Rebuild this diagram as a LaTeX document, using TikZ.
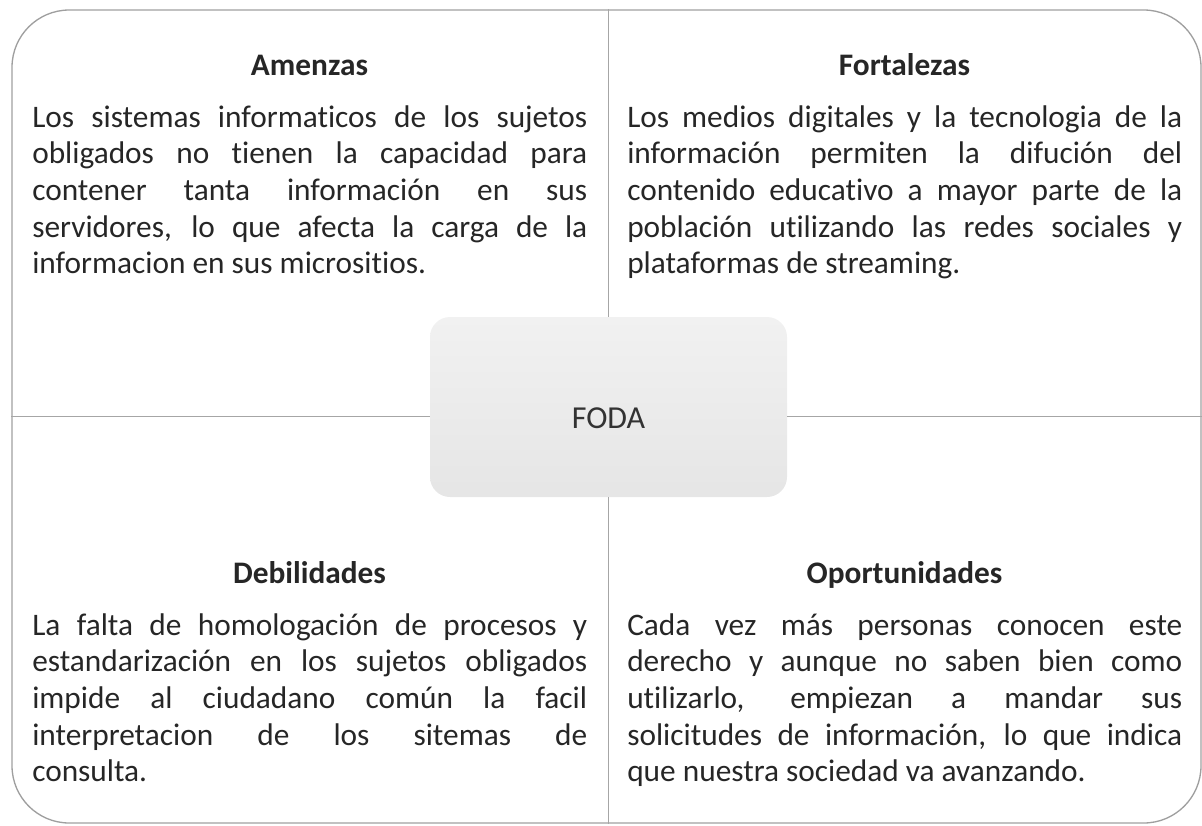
\documentclass[tikz,border=0pt]{standalone}
\usepackage{fontspec}
\setmainfont{Carlito}[Ligatures=NoCommon]
\begin{document}
\begin{tikzpicture}[x=0.75pt,y=-0.75pt,
  frame/.style={draw=gray!75,line width=1pt,rounded corners=43pt,
    minimum width=891.75pt,minimum height=609.75pt},
  core/.style={top color=gray!11,bottom color=gray!20,draw=none,rounded corners=15pt,
    minimum width=267.75pt,minimum height=135pt,text=black!80,
    font=\fontsize{24}{27.5}\selectfont,text height=32pt,text depth=0pt},
  head/.style={font=\fontsize{23.5}{27.5}\selectfont\bfseries,text=black!85,anchor=base},
  body/.style={font=\fontsize{23.5}{27.5}\selectfont,text=black!85,text width=416.25pt,
    align=justify,anchor=base west,inner sep=0pt},
  split/.style={draw=gray!70,line width=1pt}]
\useasboundingbox (0,0) rectangle (1202,825);
\path
(606.5,416.5) node[frame] (frame) {}
(608.5,407)   node[core]  (foda) {FODA};
\draw[split] (foda.north |- frame.north)--(foda.north);
\draw[split] (foda.south)--(foda.south |- frame.south);
\draw[split] (frame.west)--(frame.west -| foda.west);
\draw[split] (frame.east -| foda.east)--(frame.east);
\path
(309.5,75) node[head] (amenazas) {Amenzas}
(32,127)   node[body] (amenazastxt) {\tolerance=9999 Los sistemas informaticos de los sujetos\linebreak
  obligados no tienen la capacidad para\linebreak
  contener tanta información en sus\linebreak
  servidores, lo que afecta la carga de la\linebreak
  informacion en sus micrositios.}
(904.5,75) node[head] (fortalezas) {Fortalezas}
(627,127)  node[body] (fortalezastxt) {\tolerance=9999 Los medios digitales y la tecnologia de la\linebreak
  información permiten la difución del\linebreak
  contenido educativo a mayor parte de la\linebreak
  población utilizando las redes sociales y\linebreak
  plataformas de streaming.}
(309.5,583) node[head] (debilidades) {Debilidades}
(32,635)   node[body] (debilidadestxt) {\tolerance=9999 La falta de homologación de procesos y\linebreak
  estandarización en los sujetos obligados\linebreak
  impide al ciudadano común la facil\linebreak
  interpretacion de los sitemas de\linebreak
  consulta.}
(904.5,583) node[head] (oportunidades) {Oportunidades}
(627,635)  node[body] (oportunidadestxt) {\tolerance=9999 Cada vez más personas conocen este\linebreak
  derecho y aunque no saben bien como\linebreak
  utilizarlo, empiezan a mandar sus\linebreak
  solicitudes de información, lo que indica\linebreak
  que nuestra sociedad va avanzando.};
\end{tikzpicture}
\end{document}
